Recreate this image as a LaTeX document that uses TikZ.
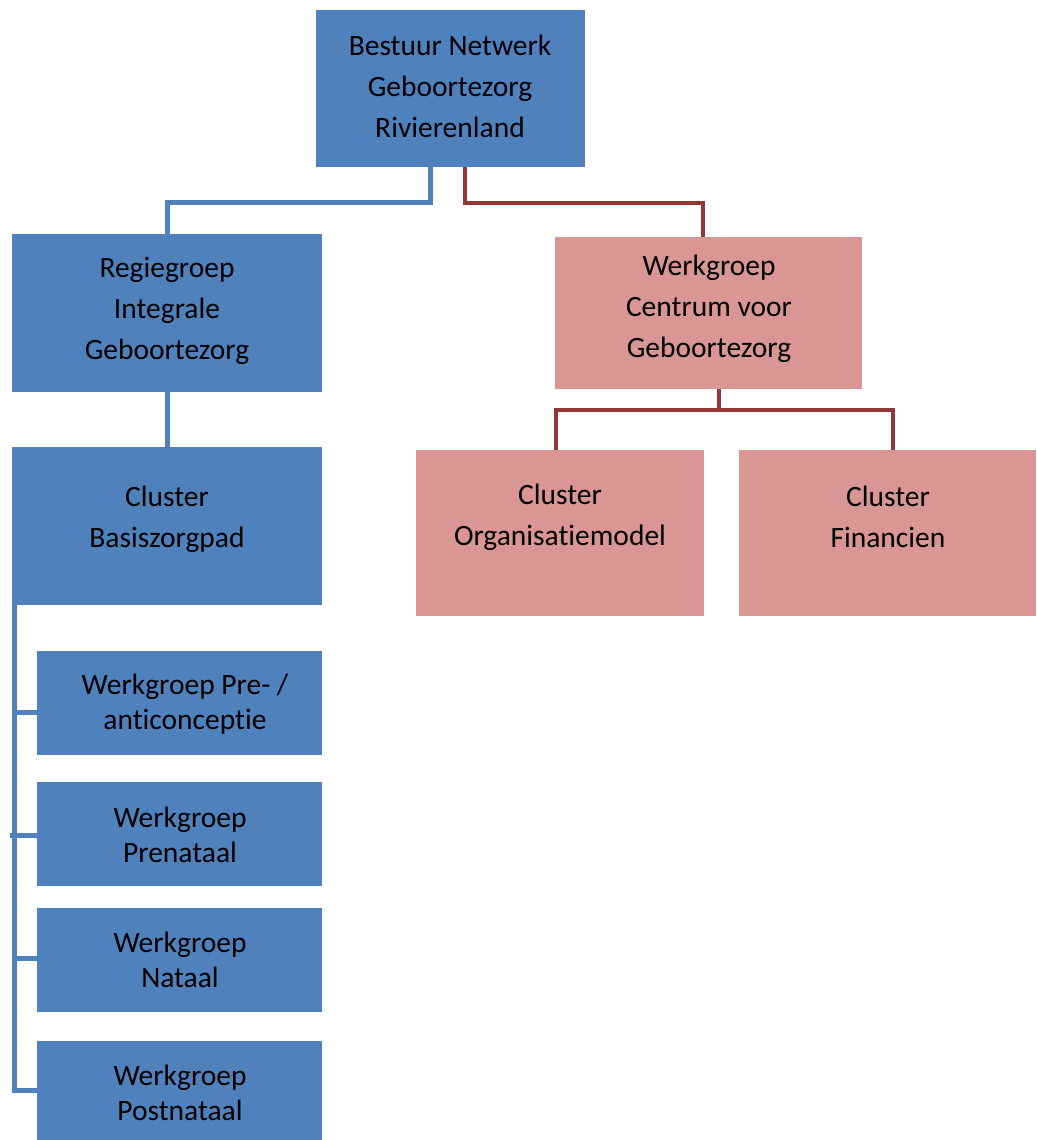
\documentclass[tikz,border=0pt]{standalone}
\usepackage{fontspec}
\setmainfont{Carlito}[RawFeature=-liga]
\usetikzlibrary{calc}
\definecolor{boxblue}{HTML}{4F81BD}
\definecolor{boxpink}{HTML}{D99694}
\definecolor{linered}{HTML}{953735}
\begin{document}
\begin{tikzpicture}[x=1pt,y=-1pt,
  bluebox/.style={draw=none,fill=boxblue,inner sep=0pt},
  pinkbox/.style={draw=none,fill=boxpink,inner sep=0pt},
  txt/.style={align=center,inner sep=0pt,font=\fontsize{29.5}{41}\selectfont},
  txts/.style={align=center,inner sep=0pt,font=\fontsize{29.5}{35}\selectfont},
  bline/.style={draw=boxblue,line width=5pt},
  rline/.style={draw=linered,line width=4pt}]
\useasboundingbox (0,0) rectangle (1036,1140);
% boxes
\node[bluebox,minimum width=269pt,minimum height=157pt] (top) at (450.5,88.5) {};
\node[bluebox,minimum width=310pt,minimum height=158pt] (regie) at (167,313) {};
\node[pinkbox,minimum width=307pt,minimum height=152pt] (centrum) at (708.5,313) {};
\node[bluebox,minimum width=310pt,minimum height=158pt] (basis) at (167,526) {};
\node[pinkbox,minimum width=288pt,minimum height=166pt] (org) at (560,533) {};
\node[pinkbox,minimum width=297pt,minimum height=166pt] (fin) at (887.5,533) {};
\node[bluebox,minimum width=285pt,minimum height=104pt] (wk1) at (179.5,703) {};
\node[bluebox,minimum width=285pt,minimum height=104pt] (wk2) at (179.5,834) {};
\node[bluebox,minimum width=285pt,minimum height=104pt] (wk3) at (179.5,960) {};
\node[bluebox,minimum width=285pt,minimum height=99pt] (wk4) at (179.5,1090.5) {};
% texts
\node[txt] (ttop) at (450,86) {Bestuur Netwerk\\Geboortezorg\\Rivierenland};
\node[txt] (tregie) at (167,311) {Regiegroep\\Integrale\\Geboortezorg};
\node[txt] (tcentrum) at (709,309) {Werkgroep\\Centrum voor\\Geboortezorg};
\node[txt] (tbasis) at (167,519) {Cluster\\Basiszorgpad};
\node[txt] (torg) at (560,517) {Cluster\\Organisatiemodel};
\node[txt] (tfin) at (888,517) {Cluster\\Financien};
\node[txts] (twk1) at (185,704) {Werkgroep Pre- /\\anticonceptie};
\node[txts] (twk2) at (180,835) {Werkgroep\\Prenataal};
\node[txts] (twk3) at (180,960) {Werkgroep\\Nataal};
\node[txts] (twk4) at (180,1093) {Werkgroep\\Postnataal};
% connectors
\draw[bline] ([xshift=-20.5pt]top.south) -- ++(0,35) -| (regie.north);
\draw[rline] ([xshift=14.5pt]top.south) -- ++(0,36) -| ([xshift=-5.5pt]centrum.north);
\draw[bline] (regie.south) -- (basis.north);
\draw[rline] ([xshift=10.5pt]centrum.south) -- ++(0,21) coordinate (rj);
\draw[rline] ([xshift=-4pt]org.north) |- (rj) -| ([xshift=5.5pt]fin.north);
\coordinate (spine) at (15,0);
\draw[bline] ([xshift=3pt]basis.south west) |- (wk4.west);
\draw[bline] ([yshift=-9pt]wk1.west) -- ([yshift=-9pt]wk1.west -| spine);
\draw[bline] ([yshift=-1pt]wk2.west) -- ([yshift=-1pt,xshift=-5pt]wk2.west -| spine);
\draw[bline] ([yshift=2pt]wk3.west) -- ([yshift=2pt]wk3.west -| spine);
\end{tikzpicture}
\end{document}
